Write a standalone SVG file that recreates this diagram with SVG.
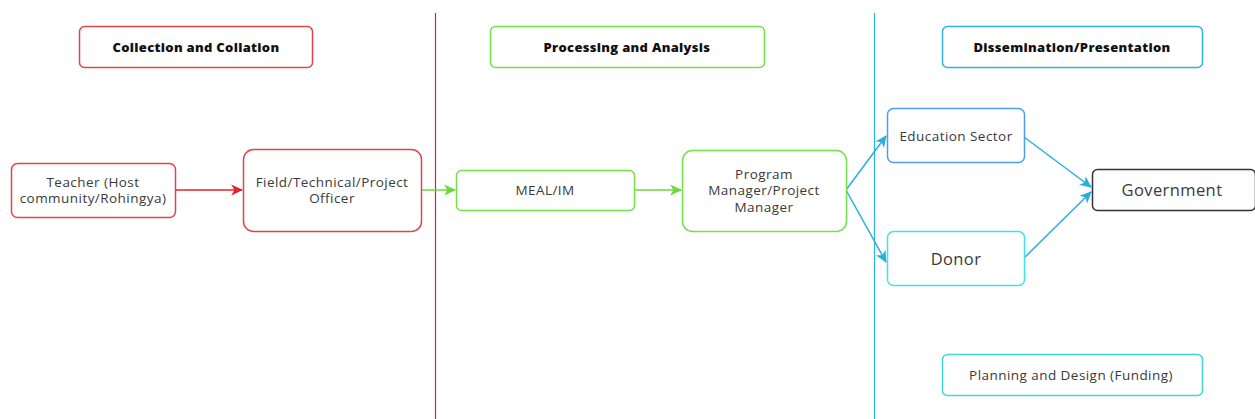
<svg xmlns="http://www.w3.org/2000/svg" width="1255" height="419" viewBox="0 0 1255 419">
<style>
.box{fill:#fff;stroke-width:1.5}
.t{font-family:"Open Sans","Noto Sans",sans-serif;font-size:13.5px;letter-spacing:0.45px;fill:#3a3a3a;text-anchor:middle;dominant-baseline:central}
.h{font-family:"Open Sans","Noto Sans",sans-serif;font-size:13px;letter-spacing:0.3px;font-weight:800;fill:#111;text-anchor:middle;dominant-baseline:central}
.big{font-size:16.5px;letter-spacing:0.4px}
.red{stroke:#e3434a}.grn{stroke:#74e04c}.blu{stroke:#2cb3e3}
</style>
<defs>
<marker id="ar" markerWidth="13" markerHeight="13" refX="10" refY="5" orient="auto" markerUnits="userSpaceOnUse" viewBox="0 0 12 10"><path d="M0,0 L11,5 L0,10 L3,5 Z" fill="#e3222a"/></marker>
<marker id="ag" markerWidth="13" markerHeight="13" refX="10" refY="5" orient="auto" markerUnits="userSpaceOnUse" viewBox="0 0 12 10"><path d="M0,0 L11,5 L0,10 L3,5 Z" fill="#6ad93c"/></marker>
<marker id="ab" markerWidth="13" markerHeight="13" refX="10" refY="5" orient="auto" markerUnits="userSpaceOnUse" viewBox="0 0 12 10"><path d="M0,0 L11,5 L0,10 L3,5 Z" fill="#25b0e0"/></marker>
</defs>
<rect width="1255" height="419" fill="#fff"/>
<g id="dividers">
<line x1="435.5" y1="13" x2="435.5" y2="419" stroke="#d8262e" stroke-width="1.2"/>
<line x1="874.5" y1="13" x2="874.5" y2="419" stroke="#2cb3e3" stroke-width="1.2"/>
</g>
<g id="connectors" fill="none" stroke-width="1.5">
<line x1="175" y1="190" x2="242" y2="190" stroke="#e3222a" marker-end="url(#ar)"/>
<line x1="421" y1="190" x2="455" y2="190" stroke="#6ad93c" marker-end="url(#ag)"/>
<line x1="634" y1="190" x2="681" y2="190" stroke="#6ad93c" marker-end="url(#ag)"/>
<line x1="846" y1="190" x2="886" y2="136" stroke="#25b0e0" marker-end="url(#ab)"/>
<line x1="846" y1="190" x2="886" y2="262" stroke="#25b0e0" marker-end="url(#ab)"/>
<line x1="1024" y1="137" x2="1091" y2="187" stroke="#25b0e0" marker-end="url(#ab)"/>
<line x1="1024" y1="258" x2="1091" y2="192" stroke="#25b0e0" marker-end="url(#ab)"/>
</g>
<g id="h1"><rect class="box red" x="79.5" y="26.5" width="233" height="41" rx="5"/><text class="h" x="196" y="47">Collection and Collation</text></g>
<g id="h2"><rect class="box grn" x="490.5" y="26.5" width="274" height="41" rx="5"/><text class="h" x="627" y="47">Processing and Analysis</text></g>
<g id="h3"><rect class="box blu" x="942.5" y="26.5" width="260" height="41" rx="5"/><text class="h" x="1072" y="47">Dissemination/Presentation</text></g>
<g id="teacher"><rect class="box red" x="11.5" y="163.5" width="164" height="54" rx="6"/><text class="t" x="93" y="182">Teacher (Host</text><text class="t" x="93" y="198">community/Rohingya)</text></g>
<g id="field"><rect class="box red" x="243.5" y="149.5" width="178" height="82" rx="10"/><text class="t" x="332" y="182">Field/Technical/Project</text><text class="t" x="332" y="198">Officer</text></g>
<g id="meal"><rect class="box grn" x="456.5" y="170.5" width="178" height="40" rx="5"/><text class="t" x="545" y="190">MEAL/IM</text></g>
<g id="pm"><rect class="box grn" x="682.5" y="150.5" width="164" height="81" rx="10"/><text class="t" x="764" y="174">Program</text><text class="t" x="764" y="190">Manager/Project</text><text class="t" x="764" y="207">Manager</text></g>
<g id="edu"><rect class="box" stroke="#4b9ff0" x="887.5" y="108.5" width="137" height="54" rx="6"/><text class="t" x="956" y="136">Education Sector</text></g>
<g id="donor"><rect class="box" stroke="#40e3e6" x="887.5" y="231.5" width="137" height="54" rx="6"/><text class="t big" x="956" y="258">Donor</text></g>
<g id="gov"><rect class="box" stroke="#333" x="1092.5" y="169.5" width="163" height="41" rx="5"/><text class="t big" x="1172" y="189">Government</text></g>
<g id="planning"><rect class="box" stroke="#3fd8d2" x="942.5" y="354.5" width="260" height="41" rx="5"/><text class="t" x="1071" y="375">Planning and Design (Funding)</text></g>
</svg>
